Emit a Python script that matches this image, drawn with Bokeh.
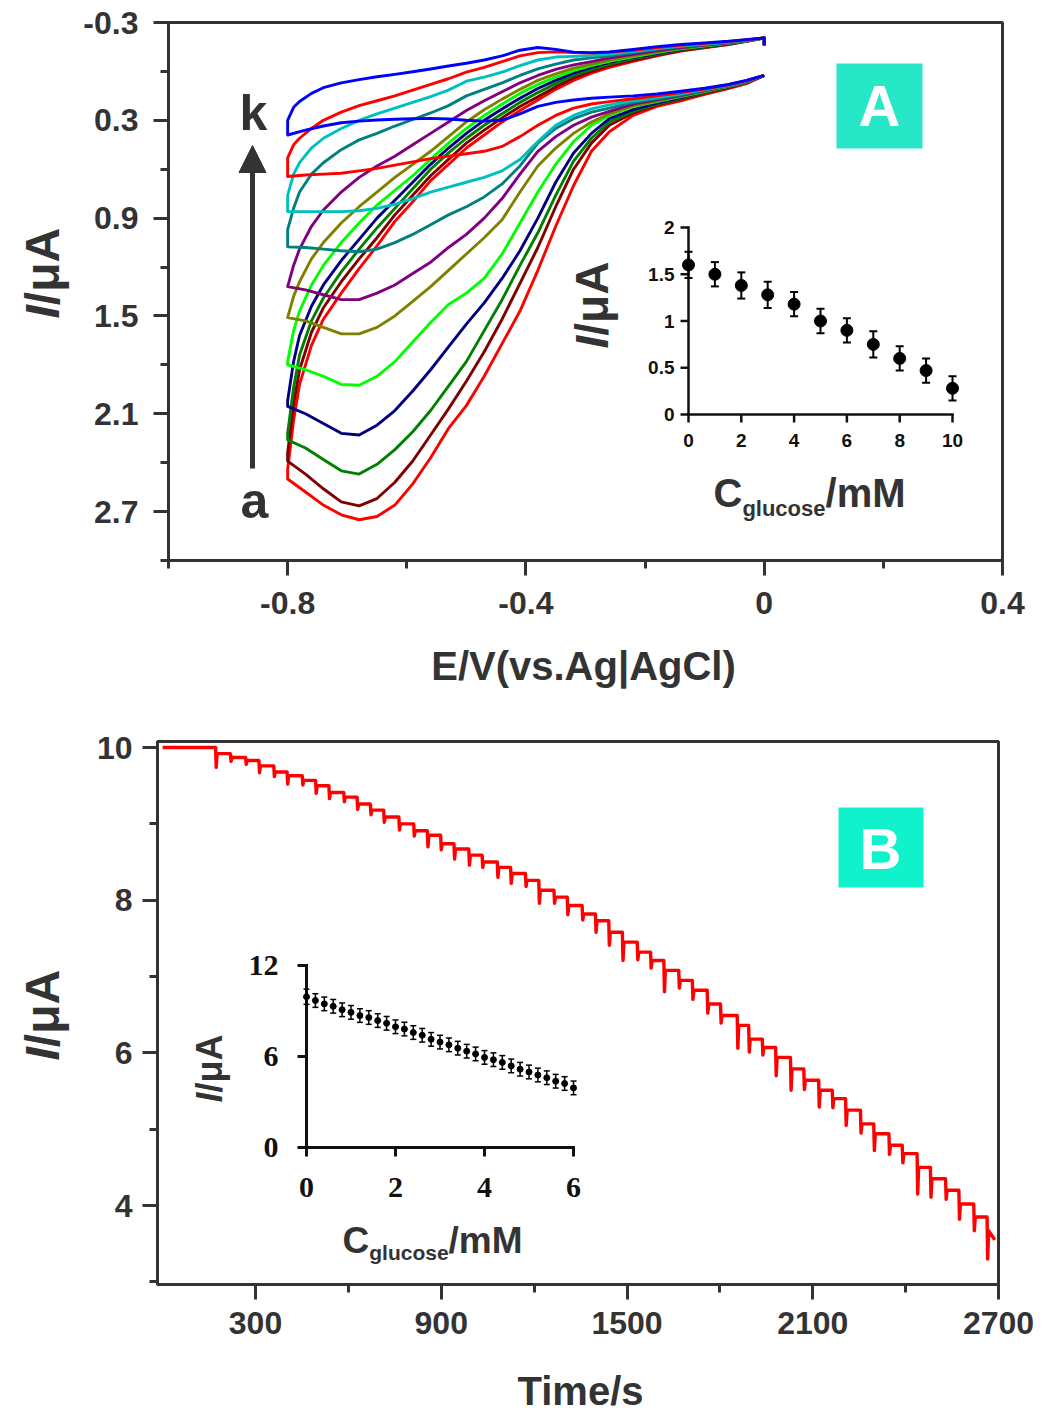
import math
from bokeh.plotting import figure
from bokeh.models import Range1d, FixedTicker, Label, Arrow, NormalHead, BoxAnnotation
from bokeh.core.properties import value
from bokeh.embed import file_html
from bokeh.resources import INLINE

# ======================= DATA =======================
# ---- Panel A : cyclic voltammograms (curves a..k) ----
# lower (reduction-peak) branch, scanned from 0 V to -0.8 V
E_lower = [0.0, -0.03, -0.06, -0.10, -0.14, -0.18, -0.22, -0.26, -0.29, -0.32, -0.35, -0.38, -0.41,
           -0.44, -0.47, -0.50, -0.53, -0.56, -0.59, -0.62, -0.65, -0.68, -0.71, -0.74, -0.77, -0.80]
# upper branch, scanned back from -0.8 V to 0 V (last point: end hook at 0 V)
E_upper = [-0.80, -0.79, -0.78, -0.76, -0.74, -0.71, -0.68, -0.65, -0.62, -0.59, -0.56, -0.53, -0.50,
           -0.47, -0.44, -0.41, -0.38, -0.35, -0.32, -0.29, -0.26, -0.22, -0.18, -0.14, -0.10, -0.06,
           -0.03, 0.0, 0.0]

lower_a = [0.025, 0.075, 0.105, 0.14, 0.18, 0.215, 0.27, 0.37, 0.49, 0.70, 0.95, 1.22, 1.47, 1.67, 1.87, 2.05, 2.19, 2.37, 2.53, 2.66, 2.73, 2.75, 2.72, 2.66, 2.58, 2.50]
lower_b = [0.025, 0.07, 0.10, 0.135, 0.17, 0.205, 0.255, 0.33, 0.44, 0.60, 0.83, 1.08, 1.30, 1.52, 1.72, 1.90, 2.07, 2.23, 2.39, 2.52, 2.62, 2.665, 2.64, 2.56, 2.47, 2.39]
lower_c = [0.025, 0.068, 0.097, 0.13, 0.165, 0.20, 0.245, 0.31, 0.41, 0.55, 0.76, 0.99, 1.19, 1.40, 1.59, 1.78, 1.93, 2.08, 2.21, 2.32, 2.41, 2.47, 2.45, 2.38, 2.31, 2.26]
lower_d = [0.025, 0.066, 0.094, 0.126, 0.16, 0.195, 0.235, 0.29, 0.38, 0.50, 0.68, 0.90, 1.10, 1.27, 1.42, 1.55, 1.69, 1.83, 1.96, 2.08, 2.17, 2.23, 2.22, 2.16, 2.10, 2.055]
lower_e = [0.025, 0.065, 0.092, 0.123, 0.155, 0.185, 0.215, 0.27, 0.33, 0.43, 0.57, 0.74, 0.93, 1.12, 1.27, 1.36, 1.43, 1.54, 1.66, 1.78, 1.87, 1.925, 1.92, 1.87, 1.83, 1.80]
lower_f = [0.025, 0.063, 0.09, 0.12, 0.15, 0.18, 0.21, 0.26, 0.31, 0.38, 0.47, 0.58, 0.74, 0.91, 1.02, 1.12, 1.22, 1.32, 1.41, 1.50, 1.57, 1.61, 1.61, 1.57, 1.53, 1.51]
lower_g = [0.025, 0.062, 0.088, 0.118, 0.148, 0.175, 0.20, 0.245, 0.28, 0.33, 0.40, 0.49, 0.63, 0.78, 0.90, 1.00, 1.08, 1.17, 1.24, 1.31, 1.36, 1.40, 1.40, 1.37, 1.34, 1.32]
lower_h = [0.025, 0.06, 0.087, 0.115, 0.143, 0.168, 0.19, 0.225, 0.25, 0.29, 0.35, 0.44, 0.58, 0.69, 0.77, 0.83, 0.88, 0.94, 1.00, 1.05, 1.09, 1.106, 1.10, 1.09, 1.08, 1.076]
lower_i = [0.025, 0.058, 0.085, 0.112, 0.138, 0.16, 0.18, 0.205, 0.23, 0.27, 0.33, 0.43, 0.54, 0.61, 0.65, 0.68, 0.71, 0.74, 0.78, 0.815, 0.84, 0.855, 0.86, 0.86, 0.86, 0.86]
lower_j = [0.025, 0.056, 0.082, 0.108, 0.13, 0.15, 0.168, 0.185, 0.20, 0.225, 0.27, 0.33, 0.40, 0.46, 0.49, 0.505, 0.52, 0.535, 0.555, 0.575, 0.595, 0.61, 0.625, 0.63, 0.635, 0.645]
lower_k = [0.025, 0.055, 0.08, 0.103, 0.122, 0.138, 0.15, 0.158, 0.165, 0.175, 0.19, 0.215, 0.26, 0.30, 0.305, 0.30, 0.292, 0.288, 0.29, 0.293, 0.298, 0.305, 0.315, 0.335, 0.36, 0.39]

upper_a = [2.44, 2.14, 1.92, 1.68, 1.52, 1.36, 1.21, 1.07, 0.92, 0.80, 0.67, 0.57, 0.47, 0.39, 0.31, 0.24, 0.175, 0.11, 0.055, 0.01, -0.025, -0.062, -0.095, -0.125, -0.145, -0.165, -0.185, -0.205, -0.16]
upper_b = [2.34, 2.04, 1.83, 1.60, 1.45, 1.29, 1.15, 1.02, 0.88, 0.76, 0.64, 0.54, 0.44, 0.36, 0.285, 0.215, 0.155, 0.095, 0.04, 0.0, -0.035, -0.07, -0.10, -0.128, -0.148, -0.166, -0.185, -0.205, -0.16]
upper_c = [2.22, 1.94, 1.74, 1.53, 1.39, 1.23, 1.09, 0.96, 0.84, 0.72, 0.60, 0.50, 0.41, 0.33, 0.26, 0.19, 0.13, 0.075, 0.025, -0.012, -0.045, -0.078, -0.105, -0.132, -0.15, -0.168, -0.186, -0.205, -0.16]
upper_d = [2.02, 1.78, 1.62, 1.44, 1.31, 1.16, 1.03, 0.90, 0.79, 0.68, 0.57, 0.47, 0.38, 0.30, 0.23, 0.165, 0.105, 0.055, 0.01, -0.025, -0.055, -0.085, -0.11, -0.135, -0.152, -0.17, -0.187, -0.205, -0.16]
upper_e = [1.78, 1.59, 1.47, 1.31, 1.19, 1.05, 0.93, 0.82, 0.73, 0.64, 0.54, 0.44, 0.35, 0.27, 0.20, 0.135, 0.08, 0.035, -0.005, -0.035, -0.062, -0.09, -0.115, -0.138, -0.155, -0.172, -0.188, -0.205, -0.16]
upper_f = [1.51, 1.38, 1.29, 1.15, 1.05, 0.93, 0.83, 0.74, 0.65, 0.57, 0.49, 0.40, 0.31, 0.235, 0.17, 0.11, 0.055, 0.015, -0.02, -0.045, -0.07, -0.095, -0.12, -0.142, -0.158, -0.174, -0.189, -0.205, -0.16]
upper_g = [1.32, 1.19, 1.09, 0.95, 0.85, 0.74, 0.65, 0.58, 0.52, 0.45, 0.38, 0.31, 0.24, 0.18, 0.125, 0.07, 0.025, -0.012, -0.04, -0.06, -0.082, -0.105, -0.127, -0.147, -0.162, -0.176, -0.19, -0.205, -0.16]
upper_h = [0.97, 0.84, 0.74, 0.63, 0.56, 0.48, 0.42, 0.38, 0.335, 0.295, 0.255, 0.21, 0.15, 0.11, 0.07, 0.025, -0.015, -0.045, -0.07, -0.083, -0.096, -0.115, -0.135, -0.152, -0.165, -0.178, -0.19, -0.205, -0.16]
upper_i = [0.76, 0.63, 0.56, 0.47, 0.41, 0.35, 0.30, 0.26, 0.225, 0.19, 0.155, 0.115, 0.06, 0.035, 0.005, -0.035, -0.07, -0.088, -0.092, -0.097, -0.107, -0.122, -0.14, -0.155, -0.168, -0.18, -0.192, -0.205, -0.16]
upper_j = [0.53, 0.45, 0.41, 0.35, 0.30, 0.25, 0.21, 0.18, 0.15, 0.115, 0.08, 0.045, 0.005, -0.025, -0.06, -0.095, -0.115, -0.12, -0.115, -0.112, -0.118, -0.13, -0.147, -0.16, -0.172, -0.183, -0.194, -0.205, -0.16]
upper_k = [0.30, 0.22, 0.185, 0.135, 0.10, 0.07, 0.05, 0.033, 0.018, 0.002, -0.015, -0.033, -0.05, -0.07, -0.095, -0.13, -0.147, -0.135, -0.118, -0.115, -0.12, -0.135, -0.152, -0.165, -0.175, -0.185, -0.195, -0.205, -0.16]

curve_names = ["a", "b", "c", "d", "e", "f", "g", "h", "i", "j", "k"]
curve_colors = ["#FF0000", "#800000", "#008000", "#000080", "#00FF00", "#808000",
                "#800080", "#008080", "#00BFBF", "#FF0000", "#0000FF"]

# ---- inset of panel A ----
insA_conc = [0, 1, 2, 3, 4, 5, 6, 7, 8, 9, 10]
insA_current = [1.60, 1.50, 1.38, 1.28, 1.18, 1.00, 0.90, 0.75, 0.60, 0.47, 0.28]
insA_err = [0.14, 0.13, 0.14, 0.14, 0.13, 0.13, 0.13, 0.14, 0.13, 0.13, 0.13]
insA_xticks = [0, 2, 4, 6, 8, 10]
insA_xlabels = ["0", "2", "4", "6", "8", "10"]
insA_yticks = [0, 0.5, 1, 1.5, 2]
insA_ylabels = ["0", "0.5", "1", "1.5", "2"]

# ---- panel A axes ----
A_xticks = [-0.8, -0.4, 0.0, 0.4]
A_xlabels = ["-0.8", "-0.4", "0", "0.4"]
A_xminor = [-1.0, -0.6, -0.2, 0.2]
A_yticks = [-0.3, 0.3, 0.9, 1.5, 2.1, 2.7]
A_ylabels = ["-0.3", "0.3", "0.9", "1.5", "2.1", "2.7"]
A_yminor = [0.0, 0.6, 1.2, 1.8, 2.4, 3.0]

# ---- Panel B : amperometric response ----
baseline_level = 10.0
step_time = [171, 219, 268, 311, 359, 402, 451, 494, 537, 585, 628, 671, 714, 763, 811, 855, 898, 941,
             989, 1032, 1081, 1124, 1172, 1215, 1264, 1307, 1355, 1398, 1441, 1485, 1533, 1576, 1619,
             1667, 1711, 1759, 1802, 1856, 1893, 1937, 1980, 2028, 2071, 2119, 2163, 2206, 2254, 2297,
             2346, 2389, 2437, 2480, 2529, 2572, 2620, 2663]
step_level = [9.92, 9.87, 9.83, 9.76, 9.68, 9.63, 9.57, 9.50, 9.41, 9.35, 9.26, 9.18, 9.09, 9.00, 8.91,
              8.85, 8.74, 8.67, 8.59, 8.50, 8.43, 8.35, 8.26, 8.13, 8.04, 7.93, 7.82, 7.73, 7.58, 7.45,
              7.32, 7.21, 7.08, 6.95, 6.82, 6.64, 6.49, 6.36, 6.18, 6.07, 5.94, 5.79, 5.64, 5.51, 5.40,
              5.25, 5.07, 4.94, 4.79, 4.68, 4.50, 4.35, 4.20, 4.02, 3.85, 3.67]
spike_depth = [0.18, 0.05, 0.05, 0.09, 0.06, 0.11, 0.06, 0.10, 0.08, 0.06, 0.07, 0.06, 0.07, 0.08, 0.07,
               0.15, 0.08, 0.13, 0.13, 0.07, 0.13, 0.13, 0.08, 0.17, 0.08, 0.12, 0.08, 0.15, 0.17, 0.24,
               0.10, 0.10, 0.28, 0.10, 0.12, 0.12, 0.10, 0.30, 0.17, 0.10, 0.24, 0.28, 0.12, 0.22, 0.12,
               0.20, 0.12, 0.22, 0.12, 0.12, 0.35, 0.24, 0.12, 0.20, 0.18, 0.37]
end_time = 2688
end_level = 3.55

B_xticks = [300, 900, 1500, 2100, 2700]
B_xlabels = ["300", "900", "1500", "2100", "2700"]
B_xminor = [600, 1200, 1800, 2400]
B_yticks = [4, 6, 8, 10]
B_ylabels = ["4", "6", "8", "10"]
B_yminor = [3, 5, 7, 9]

# ---- inset of panel B ----
insB_conc = [0.0, 0.2, 0.4, 0.6, 0.8, 1.0, 1.2, 1.4, 1.6, 1.8, 2.0, 2.2, 2.4, 2.6, 2.8, 3.0,
             3.2, 3.4, 3.6, 3.8, 4.0, 4.2, 4.4, 4.6, 4.8, 5.0, 5.2, 5.4, 5.6, 5.8, 6.0]
insB_current = [9.94, 9.69, 9.47, 9.31, 9.08, 8.91, 8.70, 8.57, 8.37, 8.19, 7.96, 7.81, 7.58, 7.40,
                7.13, 6.95, 6.77, 6.55, 6.35, 6.17, 5.94, 5.79, 5.61, 5.38, 5.16, 4.98, 4.78, 4.60,
                4.37, 4.22, 3.93]
insB_err = [0.50, 0.45, 0.45, 0.45, 0.45, 0.45, 0.45, 0.45, 0.45, 0.45, 0.45, 0.45, 0.45, 0.45, 0.45, 0.45,
            0.45, 0.45, 0.45, 0.45, 0.45, 0.45, 0.45, 0.45, 0.45, 0.45, 0.45, 0.45, 0.45, 0.45, 0.45]
insB_xticks = [0, 2, 4, 6]
insB_xlabels = ["0", "2", "4", "6"]
insB_yticks = [0, 6, 12]
insB_ylabels = ["0", "6", "12"]

# ======================= LAYOUT / STYLE =======================
FONT = "Liberation Sans"
SERIF = "Liberation Serif"
INK = "#333333"
PAGE_W = 1040
A_H, B_H = 698, 715
A_TOP, B_TOP = 0, 698                      # page y of each canvas
A_BOX = dict(L=168, T=22, R=1002, B=560)   # page-pixel frame boxes
B_BOX = dict(L=157, T=741, R=998, B=1284)
A_XR, A_YR = (-1.0, 0.4), (3.0, -0.3)
B_XR, B_YR = (-16.6, 2700.0), (2.965, 10.079)


def mapper(box, xr, yr):
    def f(px, py):
        x = xr[0] + (px - box["L"]) / (box["R"] - box["L"]) * (xr[1] - xr[0])
        y = yr[0] + (box["B"] - py) / (box["B"] - box["T"]) * (yr[1] - yr[0])
        return x, y
    return f


def inset_ranges(box, px0, px1, vx0, vx1, py0, py1, vy0, vy1):
    kx = (px1 - px0) / (vx1 - vx0)
    ky = (py0 - py1) / (vy1 - vy0)
    xr = (vx0 - (px0 - box["L"]) / kx, vx0 + (box["R"] - px0) / kx)
    yr = (vy0 - (box["B"] - py0) / ky, vy0 + (py0 - box["T"]) / ky)
    return xr, yr, kx, ky


def style_axis(ax, ticks, labels, minor, standoff):
    ax.ticker = FixedTicker(ticks=ticks, minor_ticks=minor)
    ax.major_label_overrides = {t: l for t, l in zip(ticks, labels)}
    ax.axis_line_width = 3
    ax.axis_line_color = INK
    ax.major_tick_line_width = 3
    ax.major_tick_line_color = INK
    ax.minor_tick_line_width = 3
    ax.minor_tick_line_color = INK
    ax.major_tick_out = 15
    ax.major_tick_in = 0
    ax.minor_tick_out = 8
    ax.minor_tick_in = 0
    ax.major_label_text_font = FONT
    ax.major_label_text_font_size = "32px"
    ax.major_label_text_font_style = "bold"
    ax.major_label_text_color = INK
    ax.major_label_standoff = standoff


def add_text(p, mapf, px, py, text, size, style="bold", color=INK, align="left",
             baseline="middle", angle=0.0, font=FONT):
    x, y = mapf(px, py)
    p.add_layout(Label(x=x, y=y, text=text, text_font=font, text_font_size=f"{size}px",
                       text_font_style=style, text_color=color, text_align=align,
                       text_baseline=baseline, angle=angle, angle_units="rad"))


def add_ylabel(p, mapf, px_mid, py_start, size):
    add_text(p, mapf, px_mid, py_start, "I", size, style="bold italic", angle=math.pi / 2)
    add_text(p, mapf, px_mid, py_start - 0.278 * size, "/\u03bcA", size, angle=math.pi / 2)


def add_clabel(p, mapf, px, py_mid, size, sub_size, py_sub):
    add_text(p, mapf, px, py_mid, "C", size)
    x2 = px + 0.722 * size
    add_text(p, mapf, x2, py_sub, "glucose", sub_size)
    x3 = x2 + 3.779 * sub_size
    add_text(p, mapf, x3, py_mid, "/mM", size)


def draw_inset(p, xn, yn, kx, ky, xticks, xlabels, yticks, ylabels, xs, ys, errs,
               tick_px, lw, lab_font, lab_size, ylab_gap, xlab_gap, msize, marker, cap_px, err_lw):
    xmax, ymax = xticks[-1], yticks[-1]
    p.segment(x0=[0, 0], y0=[0, 0], x1=[xmax, 0], y1=[0, ymax], line_width=lw, line_color="#111111",
              line_cap="square", x_range_name=xn, y_range_name=yn)
    p.segment(x0=xticks, y0=[0] * len(xticks), x1=xticks, y1=[-tick_px / ky] * len(xticks),
              line_width=lw, line_color="#111111", x_range_name=xn, y_range_name=yn)
    p.segment(x0=[0] * len(yticks), y0=yticks, x1=[-tick_px / kx] * len(yticks), y1=yticks,
              line_width=lw, line_color="#111111", x_range_name=xn, y_range_name=yn)
    p.text(x=[-ylab_gap / kx] * len(yticks), y=yticks, text=ylabels, text_font=value(lab_font),
           text_font_size=value(f"{lab_size}px"), text_font_style="bold", text_color="#111111",
           text_align="right", text_baseline="middle", x_range_name=xn, y_range_name=yn)
    p.text(x=xticks, y=[-xlab_gap / ky] * len(xticks), text=xlabels, text_font=value(lab_font),
           text_font_size=value(f"{lab_size}px"), text_font_style="bold", text_color="#111111",
           text_align="center", text_baseline="middle", x_range_name=xn, y_range_name=yn)
    lo = [v - e for v, e in zip(ys, errs)]
    hi = [v + e for v, e in zip(ys, errs)]
    p.segment(x0=xs, y0=lo, x1=xs, y1=hi, line_width=err_lw, line_color="black",
              x_range_name=xn, y_range_name=yn)
    cx0 = [x - cap_px / 2 / kx for x in xs]
    cx1 = [x + cap_px / 2 / kx for x in xs]
    p.segment(x0=cx0 + cx0, y0=lo + hi, x1=cx1 + cx1, y1=lo + hi, line_width=err_lw,
              line_color="black", x_range_name=xn, y_range_name=yn)
    p.scatter(xs, ys, marker=marker, size=msize, color="black", x_range_name=xn, y_range_name=yn)


def base_figure(h, box, xr, yr, top):
    p = figure(width=PAGE_W, height=h, x_range=Range1d(*xr), y_range=Range1d(*yr),
               output_backend="svg", toolbar_location=None,
               min_border_left=box["L"], min_border_right=PAGE_W - box["R"],
               min_border_top=box["T"] - top, min_border_bottom=top + h - box["B"])
    p.grid.visible = False
    p.outline_line_color = INK
    p.outline_line_width = 3
    p.background_fill_color = "white"
    p.border_fill_color = "white"
    return p


# ======================= PANEL A =======================
pA = base_figure(A_H, A_BOX, A_XR, A_YR, A_TOP)
style_axis(pA.xaxis[0], A_xticks, A_xlabels, A_xminor, 16)
style_axis(pA.yaxis[0], A_yticks, A_ylabels, A_yminor, 15)
mA = mapper(A_BOX, A_XR, A_YR)

lowers = [lower_a, lower_b, lower_c, lower_d, lower_e, lower_f, lower_g, lower_h, lower_i, lower_j, lower_k]
uppers = [upper_a, upper_b, upper_c, upper_d, upper_e, upper_f, upper_g, upper_h, upper_i, upper_j, upper_k]
for lo, up, col in zip(lowers, uppers, curve_colors):
    pA.line(E_lower + E_upper, lo + up, line_color=col, line_width=2.9, line_join="round")

# inset A
iaxr, iayr, iakx, iaky = inset_ranges(A_BOX, 688, 952, 0, 10, 414, 227, 0, 2)
pA.extra_x_ranges = {"ia_x": Range1d(*iaxr)}
pA.extra_y_ranges = {"ia_y": Range1d(*iayr)}
draw_inset(pA, "ia_x", "ia_y", iakx, iaky, insA_xticks, insA_xlabels, insA_yticks, insA_ylabels,
           insA_conc, insA_current, insA_err, tick_px=8, lw=2.5, lab_font=FONT, lab_size=19,
           ylab_gap=14, xlab_gap=26, msize=12, marker="circle", cap_px=8, err_lw=2)

# arrow and labels a / k
ax0, ay0 = mA(252, 468)
ax1, ay1 = mA(252, 145)
pA.add_layout(Arrow(end=NormalHead(size=27, fill_color=INK, line_color=INK, line_width=1),
                    x_start=ax0, y_start=ay0, x_end=ax1, y_end=ay1, line_width=5, line_color=INK))
add_text(pA, mA, 253, 112, "k", 50, align="center")
add_text(pA, mA, 254, 500, "a", 50, align="center")

# label box A
bl, bt = mA(836, 63)
br, bb = mA(922, 148)
pA.add_layout(BoxAnnotation(left=bl, right=br, top=bt, bottom=bb, fill_color="#26E8C6",
                            fill_alpha=1.0, line_color=None))
add_text(pA, mA, 879, 105, "A", 58, color="white", align="center")

# inset titles
add_ylabel(pA, mA, 591, 348, 46)
add_clabel(pA, mA, 713, 492, 40, 22, 508)

# ======================= PANEL B =======================
pB = base_figure(B_H, B_BOX, B_XR, B_YR, B_TOP)
style_axis(pB.xaxis[0], B_xticks, B_xlabels, B_xminor, 12)
style_axis(pB.yaxis[0], B_yticks, B_ylabels, B_yminor, 10)
mB = mapper(B_BOX, B_XR, B_YR)

trace_t = [0.0]
trace_I = [baseline_level]
prev = baseline_level
for t, L, s in zip(step_time, step_level, spike_depth):
    trace_t += [t, t + 2, t + 5]
    trace_I += [prev, L - s, L]
    prev = L
trace_t.append(end_time)
trace_I.append(end_level)
pB.line(trace_t, trace_I, line_color="#FF0000", line_width=3.4, line_join="round")

# inset B
ibxr, ibyr, ibkx, ibky = inset_ranges(B_BOX, 306, 573, 0, 6, 1147, 965, 0, 12)
pB.extra_x_ranges = {"ib_x": Range1d(*ibxr)}
pB.extra_y_ranges = {"ib_y": Range1d(*ibyr)}
draw_inset(pB, "ib_x", "ib_y", ibkx, ibky, insB_xticks, insB_xlabels, insB_yticks, insB_ylabels,
           insB_conc, insB_current, insB_err, tick_px=9, lw=3, lab_font=SERIF, lab_size=30,
           ylab_gap=28, xlab_gap=40, msize=6, marker="circle", cap_px=6, err_lw=1.5)

# label box B
bl, bt = mB(838, 807)
br, bb = mB(923, 887)
pB.add_layout(BoxAnnotation(left=bl, right=br, top=bt, bottom=bb, fill_color="#10F2CC",
                            fill_alpha=1.0, line_color=None))
add_text(pB, mB, 880, 848, "B", 58, color="white", align="center")

add_ylabel(pB, mB, 209, 1102, 36)
add_clabel(pB, mB, 342, 1240, 37, 21, 1252)

# ======================= AXIS TITLES (transparent overlay in page pixels) =======================
PAGE_H = A_H + B_H
ov = figure(width=PAGE_W, height=PAGE_H, x_range=Range1d(0, PAGE_W), y_range=Range1d(PAGE_H, 0),
            output_backend="svg", toolbar_location=None, min_border=0,
            x_axis_type=None, y_axis_type=None,
            styles={"position": "absolute", "left": "0px", "top": "0px", "pointer-events": "none"})
ov.grid.visible = False
ov.outline_line_color = None
ov.background_fill_alpha = 0
ov.border_fill_alpha = 0
ident = lambda px, py: (px, py)
add_text(ov, ident, 583, 665, "E/V(vs.Ag|AgCl)", 40, align="center")
add_text(ov, ident, 580, 1390, "Time/s", 40, align="center")
add_ylabel(ov, ident, 42, 318, 48)
add_ylabel(ov, ident, 42, 1060, 48)

open("out.html", "w").write(file_html([pA, pB, ov], INLINE))
